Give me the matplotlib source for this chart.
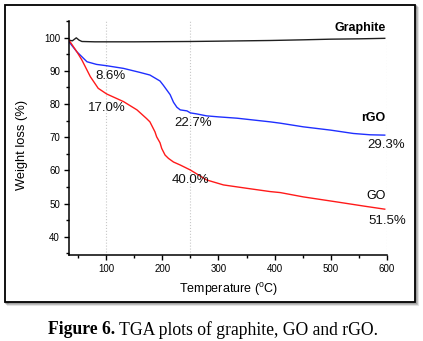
import matplotlib
matplotlib.use('Agg')
import matplotlib.pyplot as plt
from matplotlib.patches import Rectangle

plt.rcParams['font.family'] = 'Liberation Sans'
plt.rcParams['mathtext.fontset'] = 'custom'
plt.rcParams['mathtext.rm'] = 'Liberation Sans'

# TGA curves: temperature (C) vs remaining weight (%)
graphite_t = [34, 40, 47, 52, 57, 80, 150, 250, 300, 392, 450, 500, 550, 596]
graphite_w = [99.2, 99.0, 99.9, 99.2, 98.8, 98.7, 98.7, 98.8, 98.9, 99.1, 99.3, 99.5, 99.6, 99.75]

rgo_t = [34, 48, 66, 83, 101, 131, 160, 178, 196, 202, 214, 220, 226, 232, 244, 250, 261,
         279, 300, 333, 392, 410, 451, 500, 540, 570, 596]
rgo_w = [98.7, 95.7, 92.7, 91.9, 91.5, 90.7, 89.5, 88.7, 86.9, 85.6, 82.8, 80.5, 79.0, 78.2,
         77.9, 77.3, 77.0, 76.4, 76.1, 75.7, 74.6, 74.2, 73.1, 72.1, 71.1, 70.7, 70.6]

go_t = [34, 48, 57, 72, 86, 101, 131, 155, 172, 178, 187, 190, 196, 199, 205, 211, 220,
        232, 250, 279, 309, 350, 392, 410, 451, 510, 560, 596]
go_w = [99.2, 95.7, 93.2, 88.2, 84.7, 83.0, 80.7, 78.2, 75.6, 74.6, 71.6, 70.1, 68.3, 66.6,
        64.6, 63.6, 62.5, 61.6, 60.1, 57.1, 55.6, 54.6, 53.6, 53.3, 52.0, 50.5, 49.2, 48.3]

# annotation text and where it sits (temperature, weight)
loss_labels = ['8.6%', '17.0%', '22.7%', '29.3%', '40.0%', '51.5%']
loss_x = [107, 101, 255, 599, 251, 601]
loss_y = [88.4, 78.7, 74.2, 67.6, 57.1, 44.8]

fig = plt.figure(figsize=(4.23, 3.41), dpi=100)

# framed panel with a soft drop shadow
for i, a in enumerate([0.10, 0.16, 0.24]):
    off = (3 - i) / 423
    fig.patches.append(Rectangle((5 / 423 + off, 39 / 341 - off * 423 / 341),
                                 410 / 423, 297 / 341, transform=fig.transFigure,
                                 facecolor='none', edgecolor=(0, 0, 0, a),
                                 linewidth=1.5, zorder=-3))
fig.patches.append(Rectangle((5 / 423, 39 / 341), 410 / 423, 297 / 341,
                             transform=fig.transFigure, facecolor='white',
                             edgecolor='black', linewidth=1.3, zorder=-2))

ax = fig.add_axes([0.1631, 0.2522, 0.7518, 0.6865])
ax.set_zorder(2)
ax.set_facecolor('none')

for xv in [100, 250, 600]:
    ax.axvline(xv, color='#c8c8c8', linestyle=':', linewidth=0.8, zorder=0)

ax.plot(graphite_t, graphite_w, color='#202020', linewidth=1.0)
ax.plot(rgo_t, rgo_w, color='#1f2fff', linewidth=1.0)
ax.plot(go_t, go_w, color='#ff1a1a', linewidth=1.0)

for txt, xv, yv in zip(loss_labels, loss_x, loss_y):
    ax.text(xv, yv, txt, ha='center', va='center', fontsize=9.5, color='#111111')

ax.text(597, 102.9, 'Graphite', ha='right', va='center', fontsize=9, fontweight='bold')
ax.text(597, 75.7, 'rGO', ha='right', va='center', fontsize=9, fontweight='bold')
ax.text(597, 52.3, 'GO', ha='right', va='center', fontsize=9)

ax.set_xlim(34, 600)
ax.set_ylim(34.5, 105)
ax.set_xticks([100, 200, 300, 400, 500, 600])
ax.set_xticks([50, 150, 250, 350, 450, 550], minor=True)
ax.set_yticks([40, 50, 60, 70, 80, 90, 100])
ax.set_yticks([35, 45, 55, 65, 75, 85, 95, 105], minor=True)
ax.tick_params(which='major', direction='out', length=3.5, width=1, labelsize=7, pad=3)
ax.tick_params(which='minor', direction='out', length=2, width=1)
for s in ['top', 'right']:
    ax.spines[s].set_visible(False)
for s in ['left', 'bottom']:
    ax.spines[s].set_linewidth(1.1)

ax.set_xlabel('Temperature ($^{\\mathrm{o}}$C)', fontsize=9, labelpad=5)
ax.set_ylabel('Weight loss (%)', fontsize=9.3)
ax.yaxis.set_label_coords(-0.128, 0.47)

# caption under the frame
cap_y = 1 - 330 / 341
fig.text(115 / 423, cap_y, 'Figure 6.', ha='right', va='center', fontsize=12.7,
         family='Liberation Serif', fontweight='bold')
fig.text(119 / 423, cap_y, 'TGA plots of graphite, GO and rGO.', ha='left', va='center',
         fontsize=12.7, family='Liberation Serif')

fig.savefig('out.png', dpi=100)
